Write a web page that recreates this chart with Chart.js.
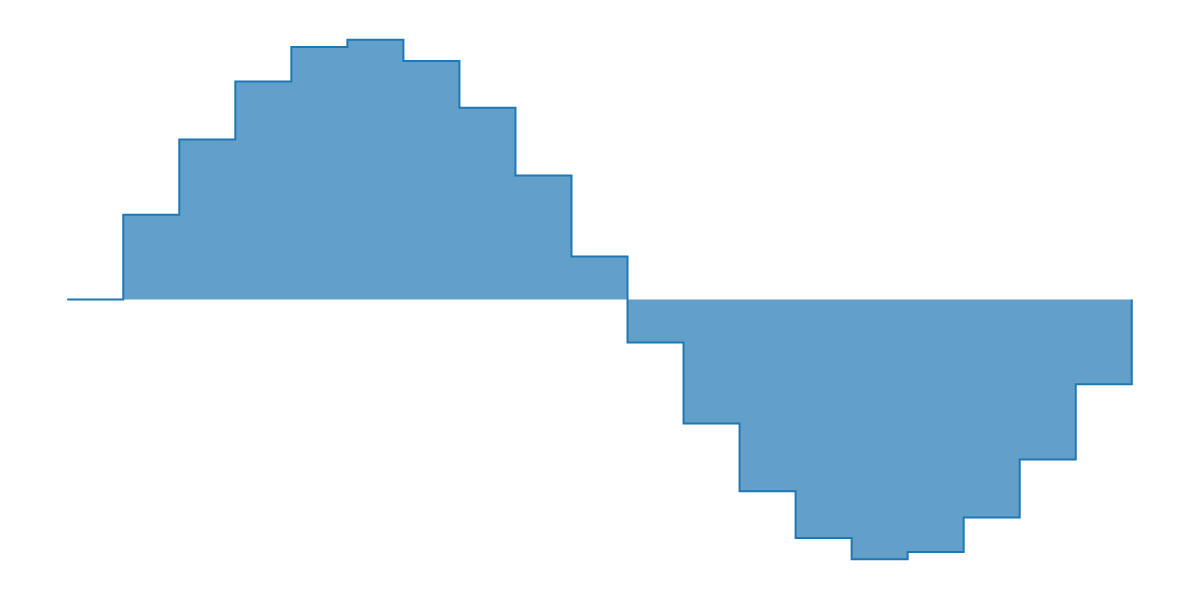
<!DOCTYPE html>
<html>
<head>
<meta charset="utf-8">
<script src="https://cdn.jsdelivr.net/npm/chart.js@4"></script>
<style>
  html, body { margin: 0; padding: 0; background: #ffffff; }
  #wrap { width: 1200px; height: 600px; }
</style>
</head>
<body>
<div id="wrap"><canvas id="stepChart"></canvas></div>
<script>
// sample positions (one per step) and the values
const steps = [0, 1, 2, 3, 4, 5, 6, 7, 8, 9, 10, 11, 12, 13, 14, 15, 16, 17, 18, 19];
const values = [
  0, 0.325, 0.614, 0.837, 0.969, 0.997, 0.916, 0.736, 0.476, 0.165,
  -0.165, -0.476, -0.736, -0.916, -0.997, -0.969, -0.837, -0.614, -0.325, 0
];

const points = steps.map((s, i) => ({ x: s, y: values[i] }));

const ctx = document.getElementById("stepChart").getContext("2d");

const stepChart = new Chart(ctx, {
  type: "line",
  data: {
    datasets: [
      {
        data: points,
        stepped: "before",
        borderColor: "#1f77b4",
        borderWidth: 2,
        backgroundColor: "rgba(31, 119, 180, 0.7)",
        fill: "origin",
        pointRadius: 0,
        tension: 0,
      },
    ],
  },
  options: {
    responsive: true,
    maintainAspectRatio: false,
    animation: false,
    layout: {
      padding: { left: 14, right: 15, top: 14, bottom: 15 },
    },
    scales: {
      x: {
        type: "linear",
        display: false,
        min: -0.95,
        max: 19.95,
      },
      y: {
        display: false,
        min: -1.096,
        max: 1.096,
      },
    },
    plugins: {
      legend: { display: false },
      tooltip: { enabled: false },
    },
  },
});
</script>
</body>
</html>
